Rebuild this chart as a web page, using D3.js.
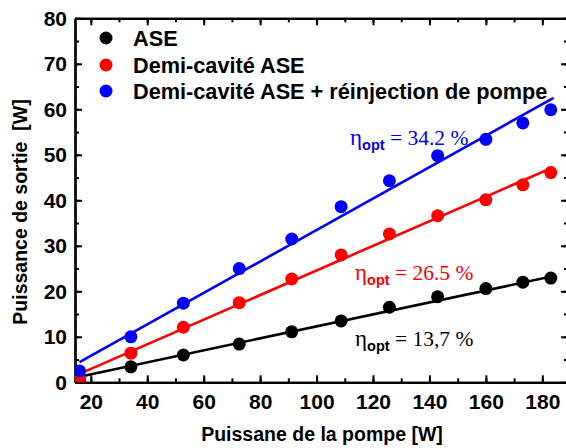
<!DOCTYPE html>
<html><head><meta charset="utf-8">
<script src="https://cdn.jsdelivr.net/npm/d3@7"></script>
<style>body{margin:0;background:#fff}svg{display:block}</style>
</head><body>
<svg id="c" width="566" height="448"></svg>
<script>
// ---- data ----
const pump = [16, 34.2, 52.8, 72.6, 91.2, 108.7, 125.8, 142.9, 160, 173.1, 183];
const ase = [0.4, 3.4, 6.0, 8.4, 11.1, 13.5, 16.5, 18.8, 20.6, 22.0, 22.9];
const demi = [0.7, 6.4, 12.1, 17.5, 22.7, 28.0, 32.6, 36.6, 40.1, 43.4, 46.1];
const reinj = [2.5, 10.0, 17.4, 25.0, 31.5, 38.6, 44.3, 49.8, 53.4, 57.0, 59.9];
const fitX = [16, 184];
const fitAse = [1.24, 23.35];
const fitDemi = [1.85, 47.3];
const fitReinj = [4.43, 62.5];
const seriesNames = ["ASE", "Demi-cavité ASE", "Demi-cavité ASE + réinjection de pompe"];
const seriesColors = ["#000000", "#ff0000", "#0000ff"];
const effLabels = ["13,7 %", "26.5 %", "34.2 %"];
const xTicks = [20, 40, 60, 80, 100, 120, 140, 160, 180];
const yTicks = [0, 10, 20, 30, 40, 50, 60, 70, 80];

const svg = d3.select("#c");
const L = 75, R = 568, T = 18.3, B = 382.3;
const x = d3.scaleLinear().domain([14.4, 189.1]).range([L, R]);
const y = d3.scaleLinear().domain([0, 80]).range([B, T]);

svg.append("defs").append("clipPath").attr("id", "clip")
  .append("rect").attr("x", L).attr("y", T).attr("width", R - L).attr("height", B - T);

const sans = "'Liberation Sans', Arial, sans-serif";
const serif = "'Liberation Serif', 'Times New Roman', serif";

function styleAxis(g) {
  g.selectAll("path.domain").attr("stroke", "#000").attr("stroke-width", 2.2);
  g.selectAll(".tick line").attr("stroke", "#000").attr("stroke-width", 2);
  g.selectAll("text").attr("font-family", sans).attr("font-weight", "bold").attr("font-size", 21).attr("fill", "#000");
}
const xMinor = d3.range(20, 190, 10);
const yMinor = d3.range(0, 81, 5);

// minor ticks
svg.append("g").attr("transform", `translate(0,${B})`)
  .call(d3.axisBottom(x).tickValues(xMinor).tickSize(-4).tickFormat("").tickSizeOuter(0)).call(styleAxis);
svg.append("g").attr("transform", `translate(0,${T})`)
  .call(d3.axisTop(x).tickValues(xMinor).tickSize(-4).tickFormat("").tickSizeOuter(0)).call(styleAxis);
svg.append("g").attr("transform", `translate(${L},0)`)
  .call(d3.axisLeft(y).tickValues(yMinor).tickSize(-4).tickFormat("").tickSizeOuter(0)).call(styleAxis);
svg.append("g").attr("transform", `translate(${R},0)`)
  .call(d3.axisRight(y).tickValues(yMinor).tickSize(-4).tickFormat("").tickSizeOuter(0)).call(styleAxis);

// major ticks
svg.append("g").attr("transform", `translate(0,${B})`)
  .call(d3.axisBottom(x).tickValues(xTicks).tickSize(-7).tickPadding(12).tickSizeOuter(0)).call(styleAxis);
svg.append("g").attr("transform", `translate(0,${T})`)
  .call(d3.axisTop(x).tickValues(xTicks).tickSize(-7).tickFormat("").tickSizeOuter(0)).call(styleAxis);
svg.append("g").attr("transform", `translate(${L},0)`)
  .call(d3.axisLeft(y).tickValues(yTicks).tickSize(-7).tickPadding(8).tickSizeOuter(0)).call(styleAxis);
svg.append("g").attr("transform", `translate(${R},0)`)
  .call(d3.axisRight(y).tickValues(yTicks).tickSize(-7).tickFormat("").tickSizeOuter(0)).call(styleAxis);

// axis titles
svg.append("text").attr("x", 322).attr("y", 441).attr("text-anchor", "middle")
  .attr("font-family", sans).attr("font-weight", "bold").attr("font-size", 19.5)
  .text("Puissane de la pompe [W]");
svg.append("text").attr("transform", "translate(27,212) rotate(-90)").attr("text-anchor", "middle")
  .attr("font-family", sans).attr("font-weight", "bold").attr("font-size", 19.5)
  .style("white-space", "pre").text("Puissance de sortie  [W]");

// fit lines & points
const plot = svg.append("g").attr("clip-path", "url(#clip)");
const fits = [fitAse, fitDemi, fitReinj];
const vals = [ase, demi, reinj];
const line = d3.line().x(d => x(d[0])).y(d => y(d[1]));
fits.forEach((f, i) => {
  plot.append("path").datum(fitX.map((xv, j) => [xv, f[j]]))
    .attr("d", line).attr("fill", "none").attr("stroke", seriesColors[i]).attr("stroke-width", 2.6);
});
vals.forEach((v, i) => {
  plot.selectAll(null).data(pump.map((p, j) => [p, v[j]])).enter().append("circle")
    .attr("cx", d => x(d[0])).attr("cy", d => y(d[1])).attr("r", 6.5).attr("fill", seriesColors[i]);
});

// legend
const legY = [38, 65, 91];
seriesNames.forEach((n, i) => {
  svg.append("circle").attr("cx", 106).attr("cy", legY[i]).attr("r", 6.5).attr("fill", seriesColors[i]);
  svg.append("text").attr("x", 133).attr("y", legY[i] + 7.5)
    .attr("font-family", sans).attr("font-weight", "bold").attr("font-size", 21.7).text(n);
});

// efficiency annotations
const annPos = [[355, 346], [355, 280], [350, 145]];
effLabels.forEach((lab, i) => {
  const t = svg.append("text").attr("x", annPos[i][0]).attr("y", annPos[i][1]).attr("fill", seriesColors[i]);
  t.append("tspan").attr("font-family", serif).attr("font-size", 23).text("η");
  t.append("tspan").attr("font-family", sans).attr("font-weight", "bold").attr("font-size", 14.5).attr("dy", 5).text("opt");
  t.append("tspan").attr("font-family", serif).attr("font-size", 21.5).attr("dy", -5).style("white-space", "pre").text(" = " + lab);
});
</script>
</body></html>
